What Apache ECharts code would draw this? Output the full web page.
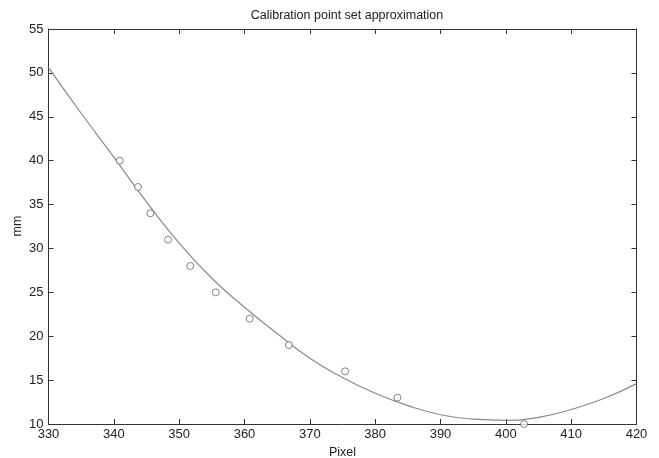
<!DOCTYPE html>
<html>
<head>
    <meta charset="UTF-8">
    <script src="https://cdn.jsdelivr.net/npm/echarts@6/dist/echarts.min.js"></script>
    <style>
    html, body { margin: 0; padding: 0; background: #fff; }
    #chart { width: 659px; height: 458px; }
    </style>
</head>
<body>
    <div id="chart"></div>
    <script>
    // measured calibration points (pixel, mm)
    var pointPixel = [340.9, 343.7, 345.6, 348.3, 351.7, 355.6, 360.8, 366.8, 375.4, 383.4, 402.8];
    var pointMm = [40, 37, 34, 31, 28, 25, 22, 19, 16, 13, 10];
    // approximation curve
    var curvePixel = [330, 335, 340, 345, 350, 355, 360, 365, 370, 375, 380, 385, 390, 395, 400, 405, 410, 415, 420];
    var curveMm = [50.6, 45.4, 40.4, 35.3, 30.6, 26.6, 23.3, 20.3, 17.5, 15.3, 13.5, 12.1, 11.05, 10.55, 10.42, 10.75, 11.65, 12.9, 14.6];

    var pointData = pointPixel.map(function (p, i) { return [p, pointMm[i]]; });
    var curveData = curvePixel.map(function (p, i) { return [p, curveMm[i]]; });

    var font = 'Liberation Sans, Arial, sans-serif';
    var axisColor = '#333';

    function xAxisOpt(pos, show) {
        return {
            type: 'value', position: pos, min: 330, max: 420, interval: 10,
            axisLine: { show: true, lineStyle: { color: axisColor, width: 1 } },
            axisTick: { show: true, inside: true, length: 5, lineStyle: { color: axisColor } },
            axisLabel: { show: show, color: '#222', fontFamily: font, fontSize: 13, margin: 4 },
            splitLine: { show: false }
        };
    }
    function yAxisOpt(pos, show) {
        return {
            type: 'value', position: pos, min: 10, max: 55, interval: 5,
            axisLine: { show: true, lineStyle: { color: axisColor, width: 1 } },
            axisTick: { show: true, inside: true, length: 5, lineStyle: { color: axisColor } },
            axisLabel: { show: show, color: '#222', fontFamily: font, fontSize: 13, margin: 5 },
            splitLine: { show: false }
        };
    }

    var xBottom = xAxisOpt('bottom', true);
    xBottom.name = 'Pixel';
    xBottom.nameLocation = 'middle';
    xBottom.nameGap = 21;
    xBottom.nameTextStyle = { color: '#222', fontFamily: font, fontSize: 12.5 };

    var option = {
        animation: false,
        title: {
            text: 'Calibration point set approximation',
            left: 342, top: 4, textAlign: 'center',
            textStyle: { color: '#222', fontFamily: font, fontSize: 12.5, fontWeight: 'normal' }
        },
        // y axis name, placed by hand
        graphic: [{
            type: 'text',
            x: 18, y: 226,
            rotation: Math.PI / 2,
            style: {
                text: 'mm', fill: '#222', font: '12.5px ' + font,
                align: 'center', verticalAlign: 'middle'
            }
        }],
        grid: { left: 48.5, right: 22.5, top: 29, bottom: 34, outerBoundsMode: 'none', containLabel: false },
        xAxis: [xBottom, xAxisOpt('top', false)],
        yAxis: [yAxisOpt('left', true), yAxisOpt('right', false)],
        series: [{
            type: 'line',
            data: curveData,
            smooth: true,
            showSymbol: false,
            lineStyle: { color: '#8a8a8a', width: 1.2 },
            z: 2
        }, {
            type: 'scatter',
            data: pointData,
            symbol: 'circle',
            symbolSize: 7,
            itemStyle: { color: '#fff', borderColor: '#666', borderWidth: 1 },
            z: 3
        }]
    };

    var myChart = echarts.init(document.getElementById('chart'));
    myChart.setOption(option);
    </script>
</body>
</html>
